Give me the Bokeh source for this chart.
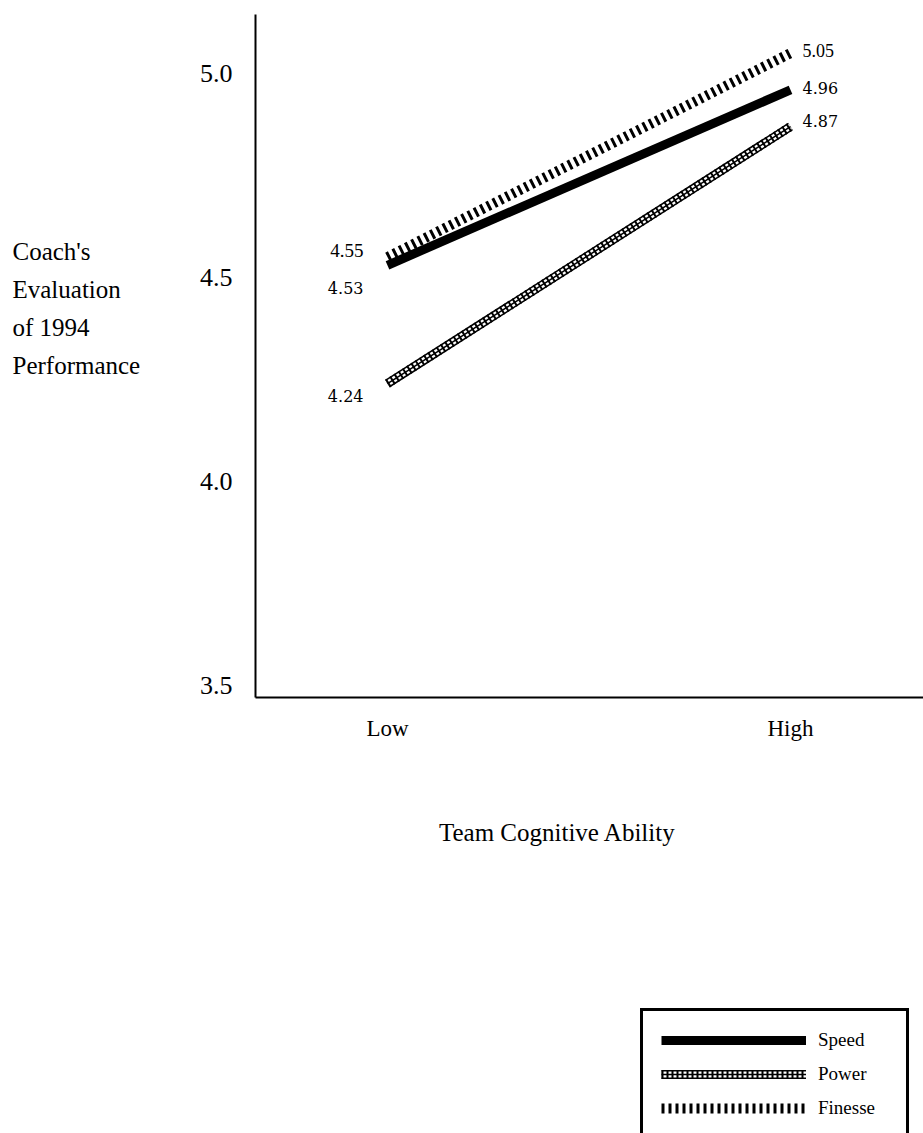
from bokeh.plotting import figure
from bokeh.layouts import column, row
from bokeh.models import FixedTicker, Range1d, Label, Legend, LegendItem, ColumnDataSource
from bokeh.embed import file_html
from bokeh.resources import INLINE

# ---- data ----
categories = ["Low", "High"]
cat_pos = [0, 1]
speed = [4.53, 4.96]
power = [4.24, 4.87]
finesse = [4.55, 5.05]
series_names = ["Speed", "Power", "Finesse"]
y_ticks = [3.5, 4.0, 4.5, 5.0]
y_tick_labels = ["3.5", "4.0", "4.5", "5.0"]
y_title = "Coach's\nEvaluation\nof 1994\nPerformance"
x_title = "Team Cognitive Ability"

SERIF = "Liberation Serif"


def blank(width, height, xr=(0, 1), yr=(0, 1)):
    f = figure(width=width, height=height, output_backend="svg", toolbar_location=None,
               x_range=Range1d(*xr), y_range=Range1d(*yr),
               x_axis_location=None, y_axis_location=None,
               min_border=0, min_border_left=0, min_border_right=0,
               min_border_top=0, min_border_bottom=0)
    f.outline_line_color = None
    f.background_fill_color = "white"
    f.border_fill_color = "white"
    f.xgrid.visible = False
    f.ygrid.visible = False
    return f


def draw_series(f, src):
    r_fin = f.line("x", "finesse", source=src, line_color="black", line_width=10, line_dash="3 4")
    r_speed = f.line("x", "speed", source=src, line_color="black", line_width=9)
    r1 = f.line("x", "power", source=src, line_color="black", line_width=9)
    r2 = f.line("x", "power", source=src, line_color="white", line_width=6)
    r3 = f.line("x", "power", source=src, line_color="black", line_width=1.5)
    r4 = f.line("x", "power", source=src, line_color="black", line_width=9, line_dash="2 3")
    return r_speed, [r1, r2, r3, r4], r_fin


src = ColumnDataSource(dict(x=cat_pos, speed=speed, power=power, finesse=finesse))

# ---- main chart ----
p = figure(width=728, height=760, output_backend="svg", toolbar_location=None,
           x_range=Range1d(-0.3275, 1.33), y_range=Range1d(3.4706, 5.1446),
           min_border_left=60, min_border_right=0, min_border_top=14,
           min_border_bottom=63)
p.background_fill_color = "white"
p.border_fill_color = "white"
p.outline_line_color = None
p.xgrid.visible = False
p.ygrid.visible = False

for ax in (p.xaxis[0], p.yaxis[0]):
    ax.axis_line_color = "black"
    ax.axis_line_width = 2
    ax.major_tick_line_color = None
    ax.minor_tick_line_color = None
    ax.major_label_text_font = SERIF
    ax.major_label_text_color = "black"

p.yaxis.ticker = FixedTicker(ticks=y_ticks)
p.yaxis.major_label_overrides = dict(zip(y_ticks, y_tick_labels))
p.yaxis.major_label_text_font_size = "26px"
p.yaxis.major_label_standoff = 17

p.xaxis.ticker = FixedTicker(ticks=cat_pos)
p.xaxis.major_label_overrides = dict(zip(cat_pos, categories))
p.xaxis.major_label_text_font_size = "23px"
p.xaxis.major_label_standoff = 12

draw_series(p, src)

left_vals = [finesse[0], speed[0], power[0]]
right_vals = [finesse[1], speed[1], power[1]]
left_src = ColumnDataSource(dict(
    x=[cat_pos[0]] * 3, y=left_vals, t=[f"{v:.2f}" for v in left_vals],
    dy=[-7, 23, 12],
    font=[SERIF, "DejaVu Serif", "DejaVu Serif"],
    size=["19px", "16px", "16px"]))
right_src = ColumnDataSource(dict(
    x=[cat_pos[1]] * 3, y=right_vals, t=[f"{v:.2f}" for v in right_vals],
    dy=[-3, -2, -6],
    font=[SERIF, "DejaVu Serif", "DejaVu Serif"],
    size=["18px", "16px", "16px"]))
p.text("x", "y", text="t", source=left_src, x_offset=-24, y_offset="dy",
       text_font="font", text_font_size="size", text_align="right",
       text_baseline="middle", text_color="black")
p.text("x", "y", text="t", source=right_src, x_offset=12, y_offset="dy",
       text_font="font", text_font_size="size", text_align="left",
       text_baseline="middle", text_color="black")

# ---- left: y title ----
fl = blank(195, 760)
fl.add_layout(Label(x=12, y=389, x_units="screen", y_units="screen", text=y_title,
                    text_font=SERIF, text_font_size="25px", text_align="left",
                    text_baseline="middle", text_line_height=1.40, text_color="black"))

# ---- bottom: x title + legend ----
fb = blank(923, 373, xr=(10, 11), yr=(0, 1))
fb.add_layout(Label(x=557, y=301, x_units="screen", y_units="screen", text=x_title,
                    text_font=SERIF, text_font_size="25px", text_align="center",
                    text_baseline="middle", text_color="black"))
lg_speed, lg_power, lg_fin = draw_series(fb, src)
legend = Legend(items=[
    LegendItem(label=series_names[0], renderers=[lg_speed]),
    LegendItem(label=series_names[1], renderers=lg_power),
    LegendItem(label=series_names[2], renderers=[lg_fin]),
], location=(640, -7), orientation="vertical", glyph_width=145, glyph_height=22,
    label_height=22, spacing=12, padding=18, label_standoff=12, label_width=70,
    border_line_color="black", border_line_width=3, border_line_alpha=1,
    label_text_font=SERIF, label_text_font_size="19px", label_text_color="black",
    background_fill_color="white", background_fill_alpha=1)
fb.add_layout(legend)

layout = column(row(fl, p), fb)
open("out.html", "w").write(file_html(layout, INLINE))
